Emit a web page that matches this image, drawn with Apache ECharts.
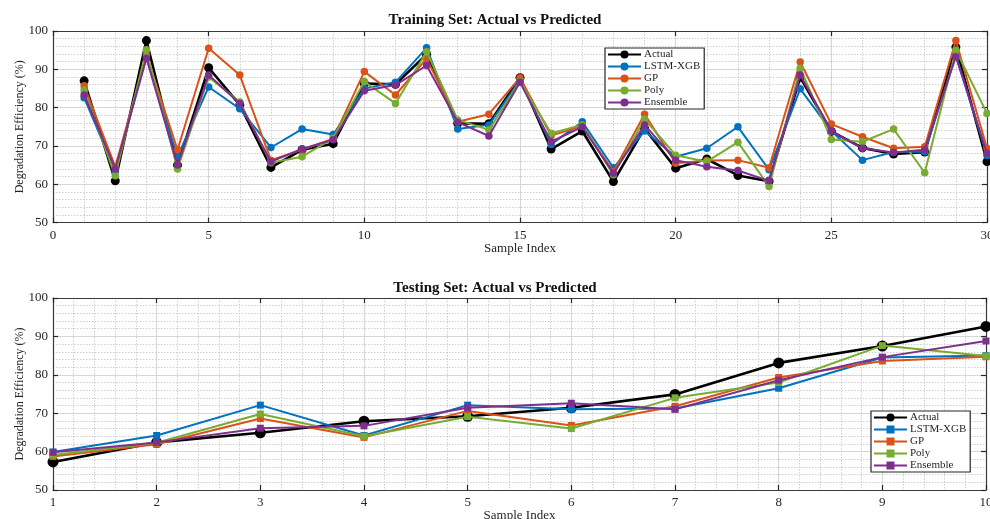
<!DOCTYPE html>
<html>
<head>
<meta charset="utf-8">
<script src="https://cdn.jsdelivr.net/npm/echarts@6/dist/echarts.min.js"></script>
<style>
  html, body { margin: 0; padding: 0; background: #fff; overflow: hidden; }
  #train { position: absolute; left: 0; top: 0; width: 990px; height: 265px; }
  #test  { position: absolute; left: 0; top: 265px; width: 990px; height: 254px; }
</style>
</head>
<body>
<div id="train"></div>
<div id="test"></div>
<script>
// ---- Training set (samples 1..30) ----
const trainIndex = [1,2,3,4,5,6,7,8,9,10,11,12,13,14,15,16,17,18,19,20,21,22,23,24,25,26,27,28,29,30];
const trainActual   = [87.0,60.9,97.5,65.0,90.4,80.7,64.4,69.0,70.6,86.3,86.1,93.9,75.9,75.8,87.8,69.2,73.9,60.7,74.6,64.2,66.6,62.3,60.8,87.9,73.8,69.5,67.9,68.4,95.8,65.9];
const trainLSTM     = [82.6,63.4,93.3,67.2,85.4,79.7,69.6,74.4,73.0,85.0,86.6,95.6,74.4,75.5,87.2,70.4,76.3,64.3,73.9,67.2,69.4,75.0,63.8,84.9,73.9,66.3,68.4,68.5,93.7,67.5];
const trainGP       = [85.7,64.6,93.8,69.0,95.5,88.5,66.3,69.0,71.9,89.4,83.3,92.8,76.3,78.3,87.8,72.7,75.2,63.3,78.3,65.5,66.2,66.3,64.3,91.9,75.7,72.4,69.4,69.8,97.5,69.4];
const trainPoly     = [84.6,62.2,95.1,64.0,88.0,81.5,65.6,67.2,72.0,86.8,81.1,94.6,76.8,74.2,86.8,73.3,75.5,62.5,77.0,67.6,65.9,71.0,59.4,90.3,71.7,71.1,74.4,63.0,95.0,78.5];
const trainEnsemble = [83.3,64.0,92.9,65.0,88.5,81.1,65.9,69.2,71.6,84.4,85.9,91.0,76.2,72.6,86.6,71.1,75.0,62.9,75.5,66.3,64.6,63.6,60.9,88.5,73.9,69.4,68.3,69.0,93.3,68.1];

// ---- Testing set (samples 1..10) ----
const testIndex = [1,2,3,4,5,6,7,8,9,10];
const testActual   = [57.3,62.4,64.9,67.9,69.2,71.4,74.9,83.1,87.5,92.6];
const testLSTM     = [59.9,64.2,72.1,64.2,72.1,71.0,71.2,76.5,84.5,85.0];
const testGP       = [58.7,61.9,68.6,63.7,70.6,66.8,71.8,79.3,83.6,84.7];
const testPoly     = [59.1,62.3,69.8,64.0,69.1,66.0,74.0,78.0,87.6,84.9];
const testEnsemble = [59.8,62.4,66.1,66.7,71.4,72.6,71.0,78.6,84.6,88.8];

const seriesNames = ['Actual', 'LSTM-XGB', 'GP', 'Poly', 'Ensemble'];
const seriesColors = ['#000000', '#0072BD', '#D95319', '#77AC30', '#7E2F8E'];

const FONT = '"Liberation Serif", "DejaVu Serif", serif';
const INK = '#262626';

function pairs(xs, ys) { return xs.map((x, i) => [x, ys[i]]); }

// Axis used only to close the box (top / right edges) with inward ticks
function frameAxis(base, extra) {
  return Object.assign({
    type: 'value',
    axisLine: { show: true, onZero: false, lineStyle: { color: '#3a3a3a', width: 1.2 } },
    axisTick: { show: true, inside: true, length: 5, lineStyle: { color: INK, width: 1.2 } },
    minorTick: { show: false, splitNumber: 5 },
    axisLabel: { show: false },
    splitLine: { show: false },
    minorSplitLine: { show: false }
  }, base, extra);
}

// Labelled axis carrying the major and dotted minor grid
function mainAxis(base, extra) {
  return frameAxis(base, Object.assign({
    axisLabel: { show: true, color: INK, fontFamily: FONT, fontSize: 13, margin: 5 },
    splitLine: { show: true, lineStyle: { color: '#d6d6d6', width: 1 } },
    minorSplitLine: { show: true, lineStyle: { color: '#cfcfcf', width: 1, type: [1.5, 1.5] } },
    nameMoveOverlap: false,
    nameTextStyle: { color: INK, fontFamily: FONT, fontSize: 13 }
  }, extra));
}

function buildOption(cfg) {
  const xBase = { min: cfg.xMin, max: cfg.xMax, interval: cfg.xInterval };
  const yBase = { min: 50, max: 100, interval: 10 };
  const data = [cfg.actual, cfg.lstm, cfg.gp, cfg.poly, cfg.ens];
  return {
    animation: false,
    backgroundColor: '#ffffff',
    title: {
      text: cfg.title, left: 'center', top: cfg.titleTop,
      textStyle: { fontFamily: FONT, fontSize: 15, fontWeight: 'bold', color: '#111' }
    },
    grid: {
      left: 53, right: cfg.gridRight, top: cfg.gridTop, height: cfg.gridHeight,
      containLabel: false, outerBoundsMode: 'none'
    },
    xAxis: [
      mainAxis(xBase, {
        position: 'bottom',
        name: 'Sample Index', nameLocation: 'middle', nameGap: 19,
        axisLabel: { show: true, color: INK, fontFamily: FONT, fontSize: 13, margin: 6 }
      }),
      frameAxis(xBase, { position: 'top' })
    ],
    yAxis: [
      mainAxis(yBase, {
        position: 'left',
        name: 'Degradation Efficiency (%)', nameLocation: 'middle', nameGap: 27, nameRotate: 90,
        nameTextStyle: { color: INK, fontFamily: FONT, fontSize: 12 }
      }),
      frameAxis(yBase, { position: 'right' })
    ],
    legend: {
      orient: 'vertical', left: cfg.legendLeft, top: cfg.legendTop,
      data: seriesNames,
      itemWidth: 33, itemHeight: 10, itemGap: 1,
      padding: [1, 4, 1, 2],
      borderColor: INK, borderWidth: 1.2, backgroundColor: '#fff',
      textStyle: { fontFamily: FONT, fontSize: 11, color: INK, padding: [0, 0, 0, -2] }
    },
    series: seriesNames.map((name, i) => ({
      name: name,
      type: 'line',
      xAxisIndex: 0, yAxisIndex: 0,
      data: pairs(cfg.index, data[i]),
      symbol: i === 0 ? 'circle' : cfg.symbol,
      symbolSize: i === 0 ? cfg.actualSize : cfg.markSize,
      color: seriesColors[i],
      lineStyle: { width: i === 0 ? 2.6 : 2, color: seriesColors[i] },
      itemStyle: { color: seriesColors[i] },
      z: 2 + i
    }))
  };
}

const trainChart = echarts.init(document.getElementById('train'), null, { renderer: 'canvas' });
trainChart.setOption(buildOption({
  title: 'Training Set: Actual vs Predicted', titleTop: 8,
  xMin: 0, xMax: 30, xInterval: 5,
  gridTop: 31, gridHeight: 191.6, gridRight: 3,
  legendLeft: 605, legendTop: 48,
  index: trainIndex, actual: trainActual, lstm: trainLSTM, gp: trainGP, poly: trainPoly, ens: trainEnsemble,
  symbol: 'circle', actualSize: 9, markSize: 7.5
}));

const testChart = echarts.init(document.getElementById('test'), null, { renderer: 'canvas' });
testChart.setOption(buildOption({
  title: 'Testing Set: Actual vs Predicted', titleTop: 11,
  xMin: 1, xMax: 10, xInterval: 1,
  gridTop: 33, gridHeight: 192, gridRight: 4,
  legendLeft: 871, legendTop: 146,
  index: testIndex, actual: testActual, lstm: testLSTM, gp: testGP, poly: testPoly, ens: testEnsemble,
  symbol: 'rect', actualSize: 11, markSize: 7
}));
</script>
</body>
</html>
